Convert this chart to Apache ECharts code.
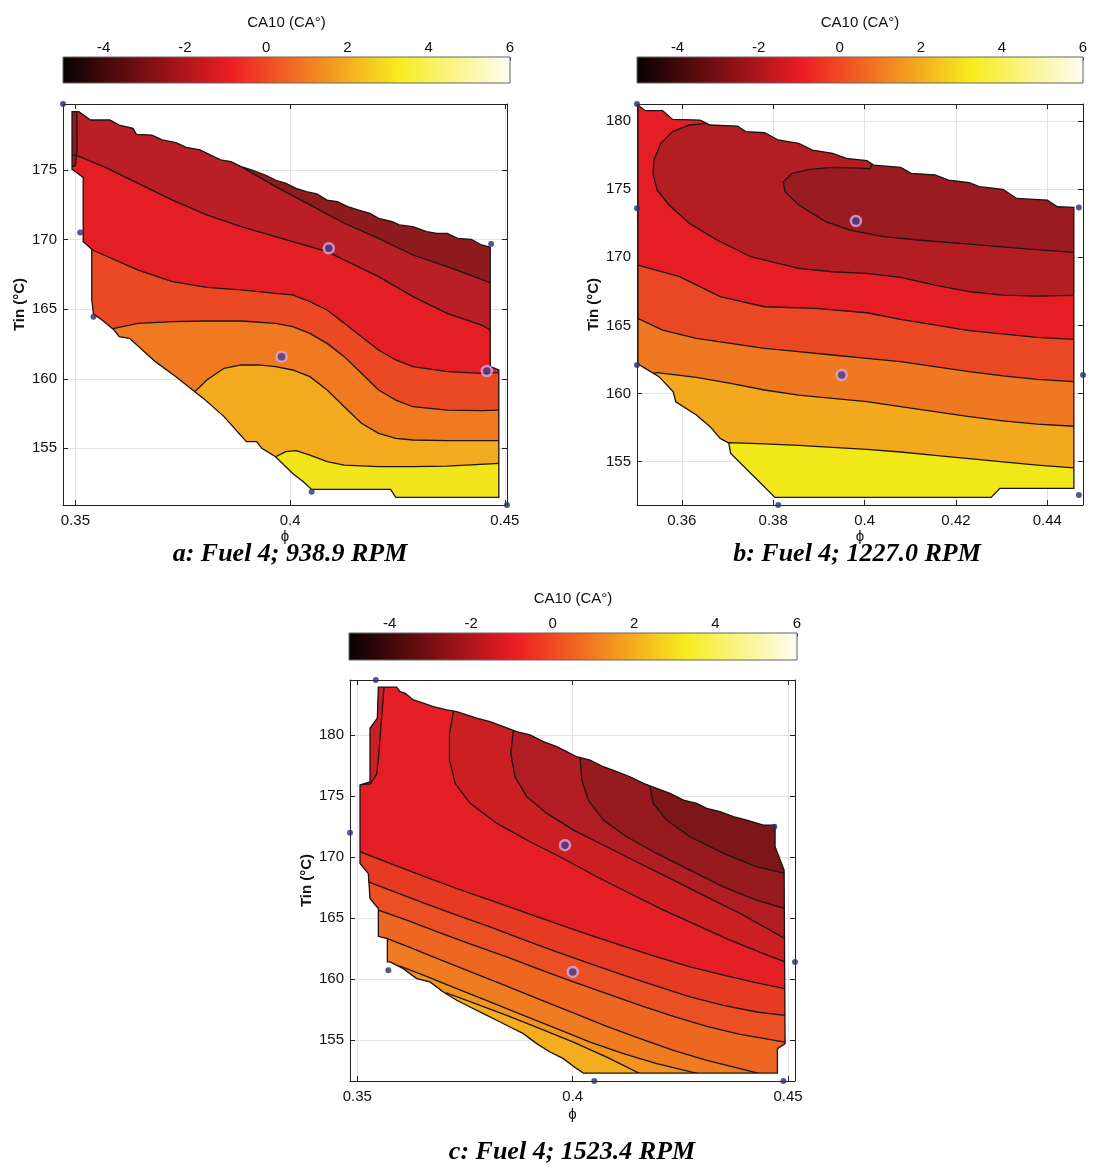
<!DOCTYPE html>
<html><head><meta charset="utf-8">
<script src="https://cdn.jsdelivr.net/npm/echarts@6/dist/echarts.min.js"></script>
<style>html,body{margin:0;padding:0;background:#fff}#c{width:1094px;height:1173px}</style>
</head><body><div id="c"></div><script>
// ---------- colour bar ----------
const cbRange = [-5, 6];
const cbTitle = 'CA10 (CA°)';

// ---------- panel a : Fuel 4; 938.9 RPM ----------
const aPhiRange = [0.3471, 0.4505];
const aTinRange = [150.93, 179.74];
const aDomain = [[0.3492,179.19],[0.3508,179.19],[0.3535,178.59],[0.3580,178.59],[0.3602,178.23],[0.3634,177.99],[0.3642,177.56],[0.3678,177.51],[0.3702,177.16],[0.3734,176.96],[0.3758,176.63],[0.3790,176.44],[0.3814,176.08],[0.3838,175.72],[0.3862,175.60],[0.3886,175.24],[0.3910,175.00],[0.3942,174.64],[0.3966,174.28],[0.3990,174.04],[0.4014,173.68],[0.4038,173.44],[0.4062,173.28],[0.4086,172.84],[0.4110,172.72],[0.4134,172.37],[0.4158,172.13],[0.4186,171.89],[0.4206,171.53],[0.4238,171.29],[0.4254,171.05],[0.4286,170.93],[0.4318,170.57],[0.4342,170.45],[0.4366,170.45],[0.4390,170.09],[0.4422,170.02],[0.4446,169.61],[0.4466,169.44],[0.4466,160.87],[0.4486,160.63],[0.4486,151.48],[0.4246,151.48],[0.4234,152.05],[0.4050,152.05],[0.4030,152.61],[0.4006,153.20],[0.3966,154.40],[0.3934,155.00],[0.3922,155.48],[0.3898,155.48],[0.3846,157.28],[0.3798,158.59],[0.3778,159.07],[0.3734,160.15],[0.3686,161.23],[0.3626,162.90],[0.3602,163.02],[0.3590,163.50],[0.3562,164.22],[0.3542,164.65],[0.3538,165.71],[0.3538,169.30],[0.3518,169.85],[0.3518,174.47],[0.3492,175.05]];
const aLine1 = [[0.34,182],[0.375,178.5],[0.3886,175.24],[0.3966,173.80],[0.4046,172.49],[0.4126,171.17],[0.4206,170.09],[0.4286,168.89],[0.4366,168.05],[0.4466,166.90],[0.455,166.7]];
const aLine2 = [[0.34,176.1],[0.3500,176.08],[0.3566,175.24],[0.3646,174.04],[0.3726,172.84],[0.3806,171.77],[0.3886,170.93],[0.3966,170.21],[0.4046,169.49],[0.4086,169.13],[0.4126,168.53],[0.4206,167.34],[0.4286,165.90],[0.4366,164.70],[0.4446,163.86],[0.4466,163.50],[0.455,163.3]];
const aLine3 = [[0.34,169.8],[0.3518,169.54],[0.3566,168.89],[0.3646,167.81],[0.3726,166.98],[0.3806,166.57],[0.3886,166.38],[0.3966,166.14],[0.4006,166.02],[0.4046,165.54],[0.4086,164.94],[0.4126,163.98],[0.4166,163.02],[0.4206,162.07],[0.4246,161.35],[0.4286,160.87],[0.4366,160.51],[0.4446,160.39],[0.4486,160.44],[0.455,160.45]];
const aLine4 = [[0.345,163.5],[0.3590,163.62],[0.3646,163.98],[0.3726,164.10],[0.3806,164.15],[0.3886,164.15],[0.3966,163.98],[0.4006,163.74],[0.4046,163.26],[0.4086,162.54],[0.4126,161.59],[0.4166,160.39],[0.4206,159.19],[0.4246,158.47],[0.4286,157.99],[0.4366,157.75],[0.4446,157.71],[0.4486,157.75],[0.455,157.75]];
const aLine5 = [[0.372,158.5],[0.3778,159.07],[0.3806,159.91],[0.3846,160.75],[0.3886,160.99],[0.3926,160.99],[0.3966,160.87],[0.4006,160.63],[0.4046,160.15],[0.4086,159.19],[0.4126,157.99],[0.4166,156.80],[0.4206,156.08],[0.4246,155.72],[0.4286,155.60],[0.4366,155.55],[0.4486,155.55],[0.455,155.55]];
const aLine6 = [[0.392,153.5],[0.3966,154.40],[0.3990,154.76],[0.4014,154.83],[0.4046,154.52],[0.4086,154.04],[0.4126,153.80],[0.4206,153.68],[0.4286,153.68],[0.4366,153.73],[0.4486,153.92],[0.455,153.95]];
const aLine0 = [[0.3503,180.5],[0.3503,179.19],[0.3504,176.5],[0.3500,175.3],[0.345,175.0]];
const aSides = ['below','below','below','below','below','below','left'];
const aFillBand = [1,2,3,4,5,6,0];
const aDots = [[0.3471,179.74],[0.3511,170.50],[0.3542,164.46],[0.4468,169.68],[0.4050,151.89],[0.4505,150.93]];
const aRings = [[0.4090,169.37],[0.3980,161.59],[0.4458,160.56]];

// ---------- panel b : Fuel 4; 1227.0 RPM ----------
const bPhiRange = [0.3502, 0.4478];
const bTinRange = [151.82, 181.25];
const bDomain = [[0.3504,181.17],[0.3520,180.76],[0.3558,180.76],[0.3580,180.12],[0.3640,180.07],[0.3662,179.71],[0.3722,179.63],[0.3740,179.22],[0.3781,179.14],[0.3811,178.61],[0.3856,178.36],[0.3886,177.87],[0.3930,177.63],[0.3960,177.26],[0.4005,177.09],[0.4020,176.77],[0.4079,176.60],[0.4102,176.16],[0.4154,176.04],[0.4184,175.67],[0.4229,175.47],[0.4251,175.18],[0.4303,174.99],[0.4333,174.32],[0.4400,174.20],[0.4422,173.71],[0.4458,173.66],[0.4458,153.04],[0.4296,153.04],[0.4277,152.38],[0.3804,152.38],[0.3707,155.61],[0.3703,156.35],[0.3684,156.71],[0.3662,157.57],[0.3632,158.42],[0.3587,159.40],[0.3581,160.14],[0.3550,161.24],[0.3520,161.85],[0.3504,162.17]];
const bLine1 = [[0.4035,178.5],[0.4012,176.5],[0.3990,176.55],[0.3930,176.6],[0.3880,176.45],[0.3841,176.15],[0.3822,175.55],[0.3826,174.81],[0.3856,173.84],[0.3915,172.61],[0.3968,172.00],[0.4042,171.51],[0.4117,171.27],[0.4229,170.97],[0.4340,170.66],[0.4458,170.36],[0.452,170.35]];
const bLine2 = [[0.3665,181.5],[0.3654,179.83],[0.3617,179.71],[0.3580,179.22],[0.3554,178.36],[0.3539,177.14],[0.3537,176.16],[0.3546,174.94],[0.3572,173.84],[0.3617,172.49],[0.3677,171.27],[0.3751,170.04],[0.3856,169.19],[0.3930,168.94],[0.4005,168.82],[0.4079,168.53],[0.4154,167.96],[0.4229,167.48],[0.4303,167.23],[0.4378,167.15],[0.4458,167.2],[0.452,167.2]];
const bLine3 = [[0.34,169.5],[0.3504,169.43],[0.3595,168.58],[0.3684,167.11],[0.3781,166.37],[0.3893,166.25],[0.4005,165.93],[0.4079,165.44],[0.4229,164.61],[0.4378,164.12],[0.4458,163.98],[0.452,163.98]];
const bLine4 = [[0.34,165.6],[0.3504,165.52],[0.3558,164.66],[0.3632,164.05],[0.3707,163.68],[0.3781,163.32],[0.3856,163.07],[0.3930,162.83],[0.4005,162.58],[0.4079,162.34],[0.4154,161.97],[0.4229,161.61],[0.4303,161.29],[0.4378,161.04],[0.4458,160.87],[0.452,160.87]];
const bLine5 = [[0.348,161.0],[0.3546,161.53],[0.3632,161.19],[0.3707,160.75],[0.3781,160.26],[0.3856,159.89],[0.3930,159.65],[0.4005,159.40],[0.4079,159.04],[0.4154,158.67],[0.4229,158.30],[0.4303,158.00],[0.4378,157.75],[0.4458,157.6],[0.452,157.6]];
const bLine6 = [[0.365,156.0],[0.3703,156.40],[0.3781,156.30],[0.3856,156.20],[0.3930,156.05],[0.4005,155.90],[0.4079,155.71],[0.4154,155.46],[0.4229,155.22],[0.4303,154.98],[0.4378,154.75],[0.4458,154.55],[0.452,154.55]];
const bSides = ['outside','outside','below','below','below','below'];
const bFillBand = [1,2,3,4,5,6];
const bDots = [[0.3502,181.25],[0.3502,173.6],[0.3502,162.1],[0.4469,173.66],[0.4478,161.36],[0.4469,152.55],[0.3811,151.82]];
const bRings = [[0.3981,172.66],[0.3950,161.36]];

// ---------- panel c : Fuel 4; 1523.4 RPM ----------
const cPhiRange = [0.3483, 0.4516];
const cTinRange = [151.67, 184.5];
const cDomain = [[0.35488,183.91],[0.35913,183.91],[0.35991,183.55],[0.36107,183.42],[0.36300,182.87],[0.36533,182.60],[0.36765,182.32],[0.37074,182.05],[0.37307,181.91],[0.37539,181.64],[0.37771,181.37],[0.38080,181.09],[0.38390,180.68],[0.38700,180.27],[0.39009,180.00],[0.39319,179.45],[0.39628,179.04],[0.39861,178.63],[0.40093,178.22],[0.40402,177.95],[0.40712,177.40],[0.41022,176.99],[0.41331,176.58],[0.41641,176.04],[0.41950,175.63],[0.42260,175.22],[0.42570,174.67],[0.42879,174.40],[0.43111,173.99],[0.43421,173.72],[0.43731,173.31],[0.44040,173.03],[0.44427,172.62],[0.44698,172.62],[0.44698,170.85],[0.44907,168.93],[0.44930,154.73],[0.44752,154.32],[0.44752,152.32],[0.40248,152.32],[0.40093,152.68],[0.39783,153.50],[0.39474,154.04],[0.39164,154.73],[0.38854,155.55],[0.38545,156.09],[0.38235,156.64],[0.37926,157.19],[0.37616,157.73],[0.37307,158.28],[0.36997,158.96],[0.36687,159.78],[0.36378,160.05],[0.36068,160.87],[0.35759,161.42],[0.35697,161.42],[0.35697,163.33],[0.35488,163.52],[0.35488,165.79],[0.35294,166.61],[0.35255,168.66],[0.35062,169.48],[0.35062,175.90],[0.35294,176.17],[0.35294,180.55],[0.35464,181.37]];
const cLine1 = [[0.4185,177.5],[0.4180,175.63],[0.4187,174.40],[0.4218,173.03],[0.4272,171.67],[0.4350,170.30],[0.4427,169.21],[0.4493,168.66],[0.456,168.6]];
const cLine2 = [[0.402,180],[0.4017,178.17],[0.4021,176.31],[0.4036,174.67],[0.4071,173.03],[0.4125,171.67],[0.4195,170.30],[0.4272,168.93],[0.4350,167.57],[0.4427,166.48],[0.4493,165.79],[0.456,165.7]];
const cLine3 = [[0.386,182],[0.3862,180.25],[0.3856,178.50],[0.3866,176.58],[0.3893,174.95],[0.3940,173.58],[0.4002,172.21],[0.4079,170.85],[0.4156,169.48],[0.4234,168.11],[0.4311,166.75],[0.4389,165.38],[0.4493,163.33],[0.456,163.2]];
const cLine4 = [[0.372,183.5],[0.3723,181.91],[0.3714,180.14],[0.3714,177.95],[0.3727,176.04],[0.3762,174.40],[0.3824,172.76],[0.3901,171.26],[0.3978,169.89],[0.4056,168.39],[0.4133,167.02],[0.4211,165.66],[0.4288,164.43],[0.4365,163.20],[0.4443,162.10],[0.4493,161.42],[0.456,161.3]];
const cLine5 = [[0.34,170.6],[0.35062,170.44],[0.35759,169.48],[0.36533,168.44],[0.37307,167.43],[0.38081,166.48],[0.38855,165.52],[0.39629,164.56],[0.40403,163.61],[0.41177,162.71],[0.41951,161.83],[0.42725,161.01],[0.43499,160.33],[0.44273,159.70],[0.44930,159.23],[0.456,159.1]];
const cLine6 = [[0.34,168.2],[0.35255,167.98],[0.35759,167.30],[0.36533,166.26],[0.37307,165.25],[0.38081,164.29],[0.38855,163.25],[0.39629,162.24],[0.40403,161.28],[0.41177,160.33],[0.41951,159.43],[0.42725,158.55],[0.43499,157.87],[0.44273,157.32],[0.44930,157.05],[0.456,157.0]];
const cLine7 = [[0.34,165.9],[0.35488,165.66],[0.36146,164.84],[0.36920,163.80],[0.37694,162.79],[0.38468,161.83],[0.39242,160.79],[0.40016,159.78],[0.40790,158.83],[0.41564,157.87],[0.42338,156.97],[0.43112,156.15],[0.43886,155.49],[0.44930,154.86],[0.456,154.8]];
const cLine8 = [[0.345,163.6],[0.35697,163.33],[0.36146,162.71],[0.36920,161.61],[0.37694,160.52],[0.38468,159.43],[0.39242,158.33],[0.40016,157.24],[0.40790,156.15],[0.41564,155.14],[0.42338,154.18],[0.43112,153.36],[0.43886,152.68],[0.44350,152.27],[0.455,150.5]];
const cLine9 = [[0.352,160.4],[0.35991,161.07],[0.36533,160.33],[0.37307,159.23],[0.38081,158.14],[0.38855,157.05],[0.39629,155.96],[0.40403,154.86],[0.41177,153.91],[0.41951,153.09],[0.42918,152.27],[0.438,150]];
const cLine10 = [[0.366,157.5],[0.37074,158.88],[0.37694,158.06],[0.38468,157.05],[0.39242,155.96],[0.40016,154.86],[0.40790,153.63],[0.41564,152.27],[0.42,150]];
const cLine0 = [[0.3565,185.5],[0.3562,183.9],[0.3556,181.3],[0.3550,178.5],[0.3545,176.8],[0.3530,176.0],[0.345,175.8]];
const cSides = ['outside','outside','outside','outside','below','below','below','below','below','below','left'];
const cFillBand = [1,2,3,4,5,6,7,8,9,10,3];
const cDots = [[0.3543,184.5],[0.3483,171.99],[0.3572,160.74],[0.4468,172.49],[0.4516,161.42],[0.4050,151.67],[0.4489,151.67]];
const cRings = [[0.3982,170.98],[0.4000,160.60]];

// ---------- styles ----------
const aColors = ['#8e1b1d','#b91f24','#e31f25','#eb4824','#ef7a22','#f4aa1f','#f1e61b'];
const bColors = ['#9a1c20','#b41e23','#e51e26','#ea4824','#ee7922','#f3a91e','#f1e81a'];
const cColors = ['#7c1618','#971a1e','#b11d22','#cb1f23','#e31f25','#e73a23','#ea5023','#ed6622','#ef7c21','#f19520','#f3ad1e'];
const FONT = 'Arial, "Liberation Sans", Helvetica, sans-serif';

const panels = [
  {grid:{left:63,top:104,width:444,height:401}, cb:{left:63,top:57,width:447,height:26}, xr:aPhiRange, yr:aTinRange, xSplit:2, phiGap:16,
   domain:aDomain, lines:[aLine1,aLine2,aLine3,aLine4,aLine5,aLine6,aLine0], sides:aSides, fill:aFillBand, colors:aColors, dots:aDots, rings:aRings,
   caption:'a: Fuel 4; 938.9 RPM', cap:[290,554]},
  {grid:{left:637,top:104,width:446,height:401}, cb:{left:637,top:57,width:446,height:26}, xr:bPhiRange, yr:bTinRange, xSplit:5, phiGap:18,
   domain:bDomain, lines:[bLine1,bLine2,bLine3,bLine4,bLine5,bLine6], sides:bSides, fill:bFillBand, colors:bColors, dots:bDots, rings:bRings,
   caption:'b: Fuel 4; 1227.0 RPM', cap:[857,554]},
  {grid:{left:350,top:680,width:445,height:401}, cb:{left:349,top:633,width:448,height:27}, xr:cPhiRange, yr:cTinRange, xSplit:2, phiGap:26,
   domain:cDomain, lines:[cLine1,cLine2,cLine3,cLine4,cLine5,cLine6,cLine7,cLine8,cLine9,cLine10,cLine0], sides:cSides, fill:cFillBand, colors:cColors, dots:cDots, rings:cRings,
   caption:'c: Fuel 4; 1523.4 RPM', cap:[572,1152]}
];

function closure(line, side) {
  const f = line[0], l = line[line.length - 1];
  if (side === 'below') return [[l[0], 100], [f[0], 100]];
  if (side === 'left') return [[0.2, l[1]], [0.2, 260], [f[0], 260]];
  return [[l[0], 100], [0.2, 100], [0.2, 260], [f[0], 260]];
}

const grid = [], xAxis = [], yAxis = [], series = [], graphic = [];
const axLine = {show:true, onZero:false, lineStyle:{color:'#222', width:1}};
const axTick = {show:true, inside:true, length:5, lineStyle:{color:'#222'}};
const lbl = {color:'#111', fontSize:15, fontFamily:FONT, showMinLabel:false, showMaxLabel:false};

panels.forEach((P, p) => grid.push(Object.assign({containLabel:false}, P.grid)));
panels.forEach((P, p) => grid.push(Object.assign({containLabel:false}, P.cb)));

panels.forEach((P, p) => {
  const xi = 3 * p, yi = 3 * p;
  xAxis.push({gridIndex:p, type:'value', position:'bottom', min:P.xr[0], max:P.xr[1], splitNumber:P.xSplit,
    axisLine:axLine, axisTick:axTick, axisLabel:Object.assign({margin:8}, lbl),
    splitLine:{show:true, lineStyle:{color:'#e3e3e3', width:1}},
    name:'ϕ', nameLocation:'middle', nameGap:P.phiGap, nameTextStyle:{fontSize:15, fontFamily:FONT, color:'#111', verticalAlign:'top'}});
  xAxis.push({gridIndex:p, type:'value', position:'top', min:P.xr[0], max:P.xr[1], splitNumber:P.xSplit,
    axisLine:axLine, axisTick:axTick, axisLabel:{show:false}, splitLine:{show:false}});
  xAxis.push({gridIndex:3 + p, type:'value', position:'top', min:cbRange[0], max:cbRange[1], splitNumber:5,
    axisLine:{show:false, onZero:false}, axisTick:{show:true, inside:true, length:4, lineStyle:{color:'#555'}},
    axisLabel:{color:'#111', fontSize:15, fontFamily:FONT, margin:2, showMinLabel:false, showMaxLabel:true},
    splitLine:{show:false},
    name:cbTitle, nameLocation:'middle', nameGap:27, nameTextStyle:{fontSize:15, fontFamily:FONT, color:'#111'}});
  yAxis.push({gridIndex:p, type:'value', position:'left', min:P.yr[0], max:P.yr[1], splitNumber:5,
    axisLine:axLine, axisTick:axTick, axisLabel:Object.assign({margin:6}, lbl),
    splitLine:{show:true, lineStyle:{color:'#e3e3e3', width:1}},
    name:'Tin (°C)', nameLocation:'middle', nameGap:36, nameTextStyle:{fontSize:15, fontWeight:'bold', fontFamily:FONT, color:'#111'}});
  yAxis.push({gridIndex:p, type:'value', position:'right', min:P.yr[0], max:P.yr[1], splitNumber:5,
    axisLine:axLine, axisTick:axTick, axisLabel:{show:false}, splitLine:{show:false}});
  yAxis.push({gridIndex:3 + p, type:'value', min:0, max:1, show:false});

  // filled contour bands: base band, then each contour line's side
  series.push({type:'custom', xAxisIndex:xi, yAxisIndex:yi, z:2, silent:true,
    data:[-1].concat(P.lines.map((l, i) => i)),
    renderItem:(params, api) => {
      const k = params.dataIndex - 1;
      const clip = {type:'polygon', shape:{points:P.domain.map(pt => api.coord(pt))}};
      const pts = k < 0 ? P.domain : P.lines[k].concat(closure(P.lines[k], P.sides[k]));
      const col = P.colors[k < 0 ? 0 : P.fill[k]];
      return {type:'polygon', z2:k + 1, shape:{points:pts.map(pt => api.coord(pt))},
        style:{fill:col, stroke:col, lineWidth:0.5}, clipPath:clip};
    }});
  // contour lines
  series.push({type:'custom', xAxisIndex:xi, yAxisIndex:yi, z:3, silent:true,
    data:P.lines.map((l, i) => i),
    renderItem:(params, api) => {
      const i = params.dataIndex;
      const clip = {type:'polygon', shape:{points:P.domain.map(pt => api.coord(pt))}};
      return {type:'polyline', shape:{points:P.lines[i].map(pt => api.coord(pt))},
        style:{fill:'none', stroke:'#1c1414', lineWidth:1.3}, clipPath:clip};
    }});
  // domain outline
  series.push({type:'custom', xAxisIndex:xi, yAxisIndex:yi, z:3, silent:true, data:[0],
    renderItem:(params, api) => ({type:'polygon', shape:{points:P.domain.map(pt => api.coord(pt))},
      style:{fill:'none', stroke:'#1c1414', lineWidth:1.3}})});
  // data points
  series.push({type:'scatter', xAxisIndex:xi, yAxisIndex:yi, z:5, clip:false, silent:true, data:P.dots,
    symbolSize:6, itemStyle:{color:'#28306e'}});
  series.push({type:'scatter', xAxisIndex:xi, yAxisIndex:yi, z:6, clip:false, silent:true, data:P.rings,
    symbolSize:10, itemStyle:{color:'#4a3c84', borderColor:'#d9abe8', borderWidth:2.5}});
  // colour bar
  series.push({type:'custom', xAxisIndex:xi + 2, yAxisIndex:yi + 2, z:2, silent:true, data:[0],
    renderItem:(params, api) => {
      const a = api.coord([cbRange[0], 1]), b = api.coord([cbRange[1], 0]);
      return {type:'rect', shape:{x:a[0], y:a[1], width:b[0] - a[0], height:b[1] - a[1]},
        style:{fill:new echarts.graphic.LinearGradient(0, 0, 1, 0, [
          {offset:0, color:'#070202'}, {offset:0.375, color:'#ee1d24'},
          {offset:0.75, color:'#f7ec1e'}, {offset:1, color:'#fdfdf4'}]), stroke:'#666', lineWidth:1}};
    }});
  graphic.push({type:'text', x:P.cap[0], y:P.cap[1], style:{text:P.caption, fontSize:26, fontWeight:'bold', fontStyle:'italic',
    fontFamily:'"Liberation Serif", "Times New Roman", serif', fill:'#000', align:'center', verticalAlign:'middle'}});
});

const chart = echarts.init(document.getElementById('c'), null, {renderer:'canvas'});
chart.setOption({animation:false, backgroundColor:'#fff', grid, xAxis, yAxis, series, graphic});
</script></body></html>
